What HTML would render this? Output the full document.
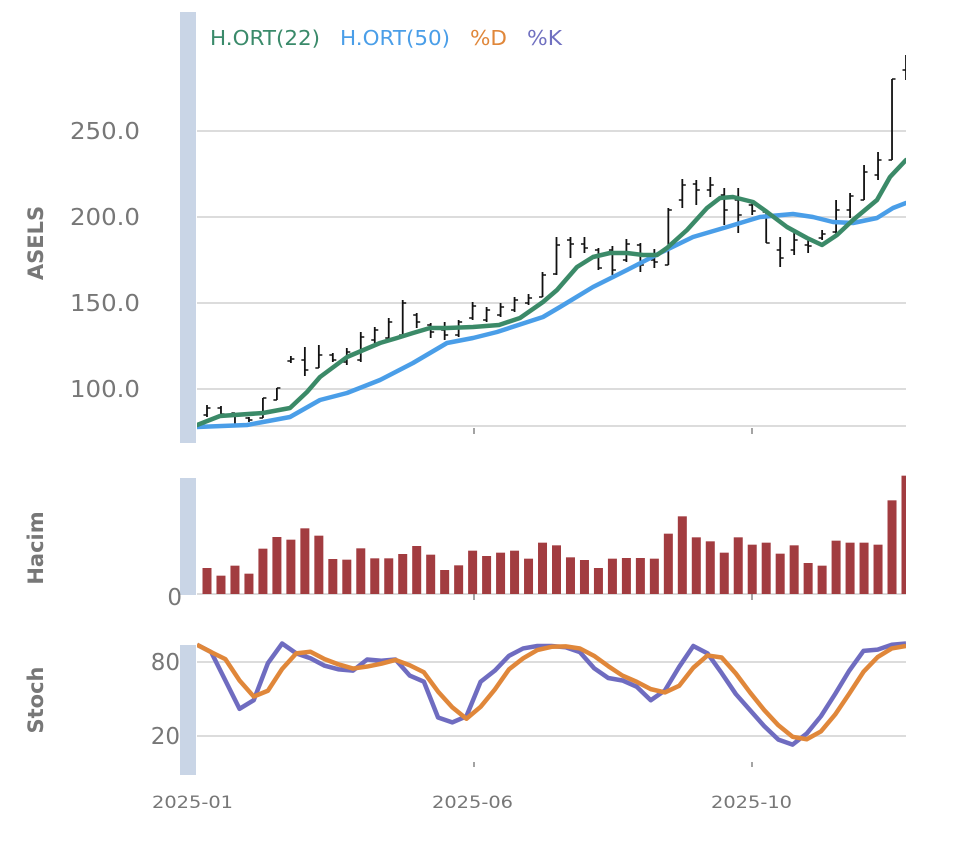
<!DOCTYPE html>
<html><head><meta charset="utf-8"><style>
body{margin:0;background:#fff;}
svg text{font-family:"DejaVu Sans","Liberation Sans",sans-serif;}
</style></head><body>
<svg id="s" width="960" height="855" xmlns="http://www.w3.org/2000/svg">
<defs><clipPath id="c"><rect x="197" y="0" width="709" height="855"/></clipPath></defs>
<rect width="960" height="855" fill="#fff"/>
<rect x="180" y="12" width="16" height="431" fill="#c9d5e6"/>
<rect x="180" y="478" width="16" height="117" fill="#c9d5e6"/>
<rect x="180" y="645" width="16" height="130" fill="#c9d5e6"/>
<g stroke="#dcdcdc" stroke-width="2">
<line x1="197" x2="906" y1="131" y2="131"/><line x1="197" x2="906" y1="217" y2="217"/>
<line x1="197" x2="906" y1="303" y2="303"/><line x1="197" x2="906" y1="389" y2="389"/>
<line x1="197" x2="906" y1="426" y2="426"/>
<line x1="197" x2="906" y1="594" y2="594"/>
<line x1="197" x2="906" y1="662" y2="662"/><line x1="197" x2="906" y1="736" y2="736"/>
</g>
<g stroke="#666" stroke-width="1.2">
<line x1="474" x2="474" y1="428" y2="434"/><line x1="752" x2="752" y1="428" y2="434"/>
<line x1="474" x2="474" y1="594" y2="600"/><line x1="752" x2="752" y1="594" y2="600"/>
<line x1="474" x2="474" y1="762" y2="767"/><line x1="752" x2="752" y1="762" y2="767"/>
</g>
<g fill="#777" font-size="23" text-anchor="end">
<text x="140" y="139" textLength="70" lengthAdjust="spacingAndGlyphs">250.0</text><text x="140" y="225" textLength="70" lengthAdjust="spacingAndGlyphs">200.0</text>
<text x="140" y="311" textLength="70" lengthAdjust="spacingAndGlyphs">150.0</text><text x="140" y="397" textLength="70" lengthAdjust="spacingAndGlyphs">100.0</text>
<text x="182" y="605">0</text>
<text x="180" y="670">80</text><text x="180" y="744">20</text>
</g>
<g fill="#777" font-size="17">
<text x="152" y="808" textLength="81" lengthAdjust="spacingAndGlyphs">2025-01</text><text x="432" y="808" textLength="81" lengthAdjust="spacingAndGlyphs">2025-06</text><text x="711" y="808" textLength="81" lengthAdjust="spacingAndGlyphs">2025-10</text>
</g>
<g fill="#777" font-size="21" font-weight="bold" text-anchor="middle">
<text transform="translate(43,243) rotate(-90)">ASELS</text>
<text transform="translate(43,548) rotate(-90)">Hacim</text>
<text transform="translate(43,700) rotate(-90)">Stoch</text>
</g>
<g font-size="20">
<text x="210" y="45" fill="#3a8a6a" textLength="110" lengthAdjust="spacingAndGlyphs">H.ORT(22)</text>
<text x="340" y="45" fill="#4a9ee8" textLength="110" lengthAdjust="spacingAndGlyphs">H.ORT(50)</text>
<text x="470" y="45" fill="#e0873a" textLength="37" lengthAdjust="spacingAndGlyphs">%D</text>
<text x="527" y="45" fill="#7070c0" textLength="35" lengthAdjust="spacingAndGlyphs">%K</text>
</g>
<g id="g" clip-path="url(#c)"></g>
</svg>
<script>
var g=document.getElementById('g'),NS='http://www.w3.org/2000/svg';
function el(t,a){var e=document.createElementNS(NS,t);for(var k in a)e.setAttribute(k,a[k]);g.appendChild(e);return e;}
function X(i){return 207+i*13.98;}
var vt=[325,348,318,342,267,232,240,206,228,298,300,266,296,296,283,259,285,331,317,273,289,279,273,297,249,257,293,301,325,297,295,295,297,222,170,233,245,279,233,255,249,282,257,310,318,243,249,249,255,122,48];
vt.forEach(function(t,i){var h=(403-t)/3;el('rect',{x:X(i)-4.5,y:594-h,width:9,height:h,fill:'#a23c40'});});
var K=[94,88,65,42,49,79,95,87,83,77,74,73,82,81,82,69,64,35,31,36,64,73,85,91,93,93,92,88,75,67,65,60,49,57,76,93,87,71,54,41,28,17,13,22,36,54,73,89,90,94,95];
var D=K.map(function(v,i){if(i<2)return v;return (K[i]+K[i-1]+K[i-2])/3;});
function sy(v){return 662+(80-v)*1.233;}
function pl(arr,c){el('polyline',{points:arr.map(function(v,i){return (197+i*14.18)+','+sy(v)}).join(' '),fill:'none',stroke:c,'stroke-width':4.5,'stroke-linejoin':'round'});}
pl(K,'#6f6cc0');pl(D,'#e0873a');
var P=[[405,417,415,408],[406,417,408,414],[413,425,413,416],[417,422,418,420],[398,418,418,398],[388,400,400,388],[356,363,361,359],[347,376,360,370],[345,368,368,355],[353,362,355,360],[348,365,362,352],[332,362,360,337],[327,343,340,330],[318,340,338,322],[300,335,335,303],[313,328,315,322],[323,338,325,332],[322,340,330,335],[320,337,335,322],[302,320,318,306],[307,322,320,310],[303,317,315,307],[297,312,310,300],[294,305,303,298],[272,297,297,275],[237,275,274,245],[237,258,240,244],[237,253,244,248],[248,270,250,268],[246,275,250,270],[239,262,260,244],[243,272,245,265],[249,268,260,262],[208,265,265,210],[179,208,200,185],[180,205,184,190],[177,197,190,185],[188,225,195,210],[188,233,200,215],[203,215,205,211],[212,243,212,243],[237,267,250,258],[233,255,250,240],[240,253,245,246],[230,240,238,234],[200,235,232,210],[193,218,210,196],[165,200,200,172],[152,180,175,160],[79,160,160,79],[55,80,70,70]];
P.forEach(function(p,i){var x=X(i);
el('line',{x1:x,x2:x,y1:p[0],y2:p[1],stroke:'#111','stroke-width':1.8});
el('line',{x1:x-3.5,x2:x,y1:p[2],y2:p[2],stroke:'#111','stroke-width':1.5});
el('line',{x1:x,x2:x+3.5,y1:p[3],y2:p[3],stroke:'#111','stroke-width':1.5});});
var B=[[197,427],[247,425],[290,417],[320,400],[347,393],[380,380],[413,363],[447,343],[473,338],[497,332],[543,317],[560,307],[593,287],[627,270],[660,253],[693,237],[727,227],[760,217],[793,214],[813,217],[833,222],[853,223],[877,218],[893,208],[906,203]];
var G=[[197,425],[220,416],[263,413],[290,408],[307,392],[320,377],[347,357],[380,343],[397,338],[413,333],[430,328],[447,328],[473,327],[499,325],[520,318],[543,302],[557,290],[577,267],[593,257],[610,253],[627,253],[643,255],[657,255],[667,248],[687,230],[707,208],[720,198],[733,197],[753,202],[767,212],[787,227],[807,238],[822,245],[837,235],[853,220],[877,200],[890,177],[906,160]];
function ln(a,c){el('polyline',{points:a.map(function(p){return p.join(',')}).join(' '),fill:'none',stroke:c,'stroke-width':4.5,'stroke-linejoin':'round','stroke-linecap':'round'});}
ln(B,'#4a9ee8');ln(G,'#3b8a68');
</script>
</body></html>
